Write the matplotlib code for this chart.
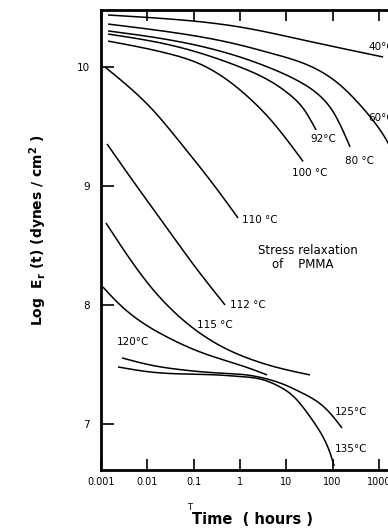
import numpy as np
import matplotlib
matplotlib.use("Agg")
import matplotlib.pyplot as plt

# time in hours, log E_r in dynes/cm^2
t_40 = [0.00142, 0.0309, 1.0, 23.1, 1233]
e_40 = [10.437, 10.403, 10.336, 10.227, 10.084]

t_60 = [0.00142, 0.0309, 1.0, 4.47, 19.9, 53.7, 145, 393, 828, 1581, 2870]
e_60 = [10.361, 10.294, 10.185, 10.118, 10.042, 9.966, 9.849, 9.681, 9.529, 9.361, 9.151]

t_80 = [0.00142, 0.0309, 1.0, 4.47, 19.9, 53.7, 113, 239]
e_80 = [10.303, 10.227, 10.084, 9.992, 9.874, 9.756, 9.597, 9.328]

t_92 = [0.00142, 0.0309, 1.0, 4.47, 12.1, 25.5, 44.0]
e_92 = [10.277, 10.185, 10.0, 9.882, 9.765, 9.630, 9.471]

t_100 = [0.00142, 0.0309, 0.1374, 0.611, 1.82, 4.47, 23.1]
e_100 = [10.218, 10.109, 10.025, 9.874, 9.718, 9.562, 9.206]

t_110 = [0.00122, 0.00423, 0.01143, 0.0590, 0.226, 0.910]
e_110 = [10.0, 9.824, 9.664, 9.336, 9.050, 8.731]

t_112 = [0.00135, 0.00491, 0.0266, 0.0836, 0.476]
e_112 = [9.353, 9.042, 8.647, 8.378, 8.0]

t_115 = [0.00128, 0.00299, 0.01143, 0.0590, 0.320, 1.65, 8.53, 32.7]
e_115 = [8.689, 8.471, 8.160, 7.874, 7.672, 7.546, 7.462, 7.412]

t_120 = [0.00110, 0.00233, 0.00491, 0.0266, 0.1374, 0.710, 1.65, 3.85]
e_120 = [8.151, 8.017, 7.908, 7.731, 7.605, 7.513, 7.466, 7.412]

t_125 = [0.00284, 0.01143, 0.0590, 0.320, 1.65, 3.85, 9.42, 19.9, 76.0, 160]
e_125 = [7.555, 7.496, 7.454, 7.429, 7.408, 7.378, 7.328, 7.269, 7.118, 6.966]

t_135 = [0.00233, 0.01143, 0.0590, 0.320, 1.00, 2.72, 7.35, 14.0, 25.5, 41.9, 68.9, 92.9, 108]
e_135 = [7.479, 7.437, 7.420, 7.412, 7.399, 7.378, 7.311, 7.235, 7.118, 7.000, 6.857, 6.731, 6.647]

x_ticks = [0.001, 0.01, 0.1, 1, 10, 100, 1000]
x_labels = ["0.001", "0.01", "0.1", "1", "10", "100", "1000"]
y_ticks = [7, 8, 9, 10]


def spline(t, e, n=300):
    # natural cubic spline through the read points, in log time
    x = np.log10(np.asarray(t, float))
    y = np.asarray(e, float)
    N = len(x)
    h = np.diff(x)
    A = np.zeros((N, N))
    b = np.zeros(N)
    A[0, 0] = A[-1, -1] = 1
    for i in range(1, N - 1):
        A[i, i - 1] = h[i - 1]
        A[i, i] = 2 * (h[i - 1] + h[i])
        A[i, i + 1] = h[i]
        b[i] = 6 * ((y[i + 1] - y[i]) / h[i] - (y[i] - y[i - 1]) / h[i - 1])
    M = np.linalg.solve(A, b)
    xs = np.linspace(x[0], x[-1], n)
    k = np.clip(np.searchsorted(x, xs) - 1, 0, N - 2)
    a = x[k + 1] - xs
    c = xs - x[k]
    hk = h[k]
    ys = (M[k] * a**3 + M[k + 1] * c**3) / (6 * hk) \
        + (y[k] / hk - M[k] * hk / 6) * a + (y[k + 1] / hk - M[k + 1] * hk / 6) * c
    return 10 ** xs, ys


fig = plt.figure(figsize=(3.88, 5.31), dpi=100)
ax = fig.add_axes([101 / 388, 61 / 531, 333 / 388, 460 / 531])

curves = [(t_40, e_40), (t_60, e_60), (t_80, e_80), (t_92, e_92), (t_100, e_100),
          (t_110, e_110), (t_112, e_112), (t_115, e_115), (t_120, e_120),
          (t_125, e_125), (t_135, e_135)]
for t, e in curves:
    xs, ys = spline(t, e)
    ax.plot(xs, ys, color="black", lw=1.1, solid_capstyle="butt")

ax.set_xscale("log")
ax.set_xlim(0.001, 10 ** 4.19)
ax.set_ylim(6.613, 10.479)
ax.set_xticks(x_ticks)
ax.set_xticklabels(x_labels, fontsize=7)
ax.set_yticks(y_ticks)
ax.set_yticklabels([str(v) for v in y_ticks], fontsize=7.5)
ax.xaxis.set_minor_locator(matplotlib.ticker.NullLocator())
ax.tick_params(axis="x", direction="in", length=8, width=1.2, top=True, pad=5)
ax.tick_params(axis="y", direction="in", length=9, width=1.2, pad=8)
for s in ax.spines.values():
    s.set_linewidth(2)

lab = dict(fontsize=7.5, va="center", ha="left")
ax.text(585, 10.168, "40°C", **lab)
ax.text(585, 9.571, "60°C", **lab)
ax.text(32.7, 9.395, "92°C", **lab)
ax.text(186, 9.210, "80 °C", **lab)
ax.text(13.3, 9.109, "100 °C", **lab)
ax.text(1.11, 8.714, "110 °C", **lab)
ax.text(0.61, 8.0, "112 °C", **lab)
ax.text(0.118, 7.832, "115 °C", **lab)
ax.text(0.00222, 7.689, "120°C", **lab)
ax.text(113, 7.101, "125°C", **lab)
ax.text(113, 6.790, "135°C", **lab)

ax.text(258 / 388, 1 - 250 / 531, "Stress relaxation", transform=fig.transFigure,
        fontsize=8.5, ha="left", va="center")
ax.text(272 / 388, 1 - 264 / 531, "of    PMMA", transform=fig.transFigure,
        fontsize=8.5, ha="left", va="center")

fig.text(38 / 388, 1 - 230 / 531, r"Log  E$_\mathbf{r}$ (t) (dynes / cm$^\mathbf{2}$ )",
         rotation=90, fontsize=10, fontweight="bold", ha="center", va="center")
fig.text(252 / 388, 1 - 520 / 531, "Time  ( hours )", fontsize=10.5,
         fontweight="bold", ha="center", va="center")
fig.text(190 / 388, 1 - 507 / 531, "T", fontsize=6, ha="center", va="center")

fig.savefig("out.png", dpi=100)
